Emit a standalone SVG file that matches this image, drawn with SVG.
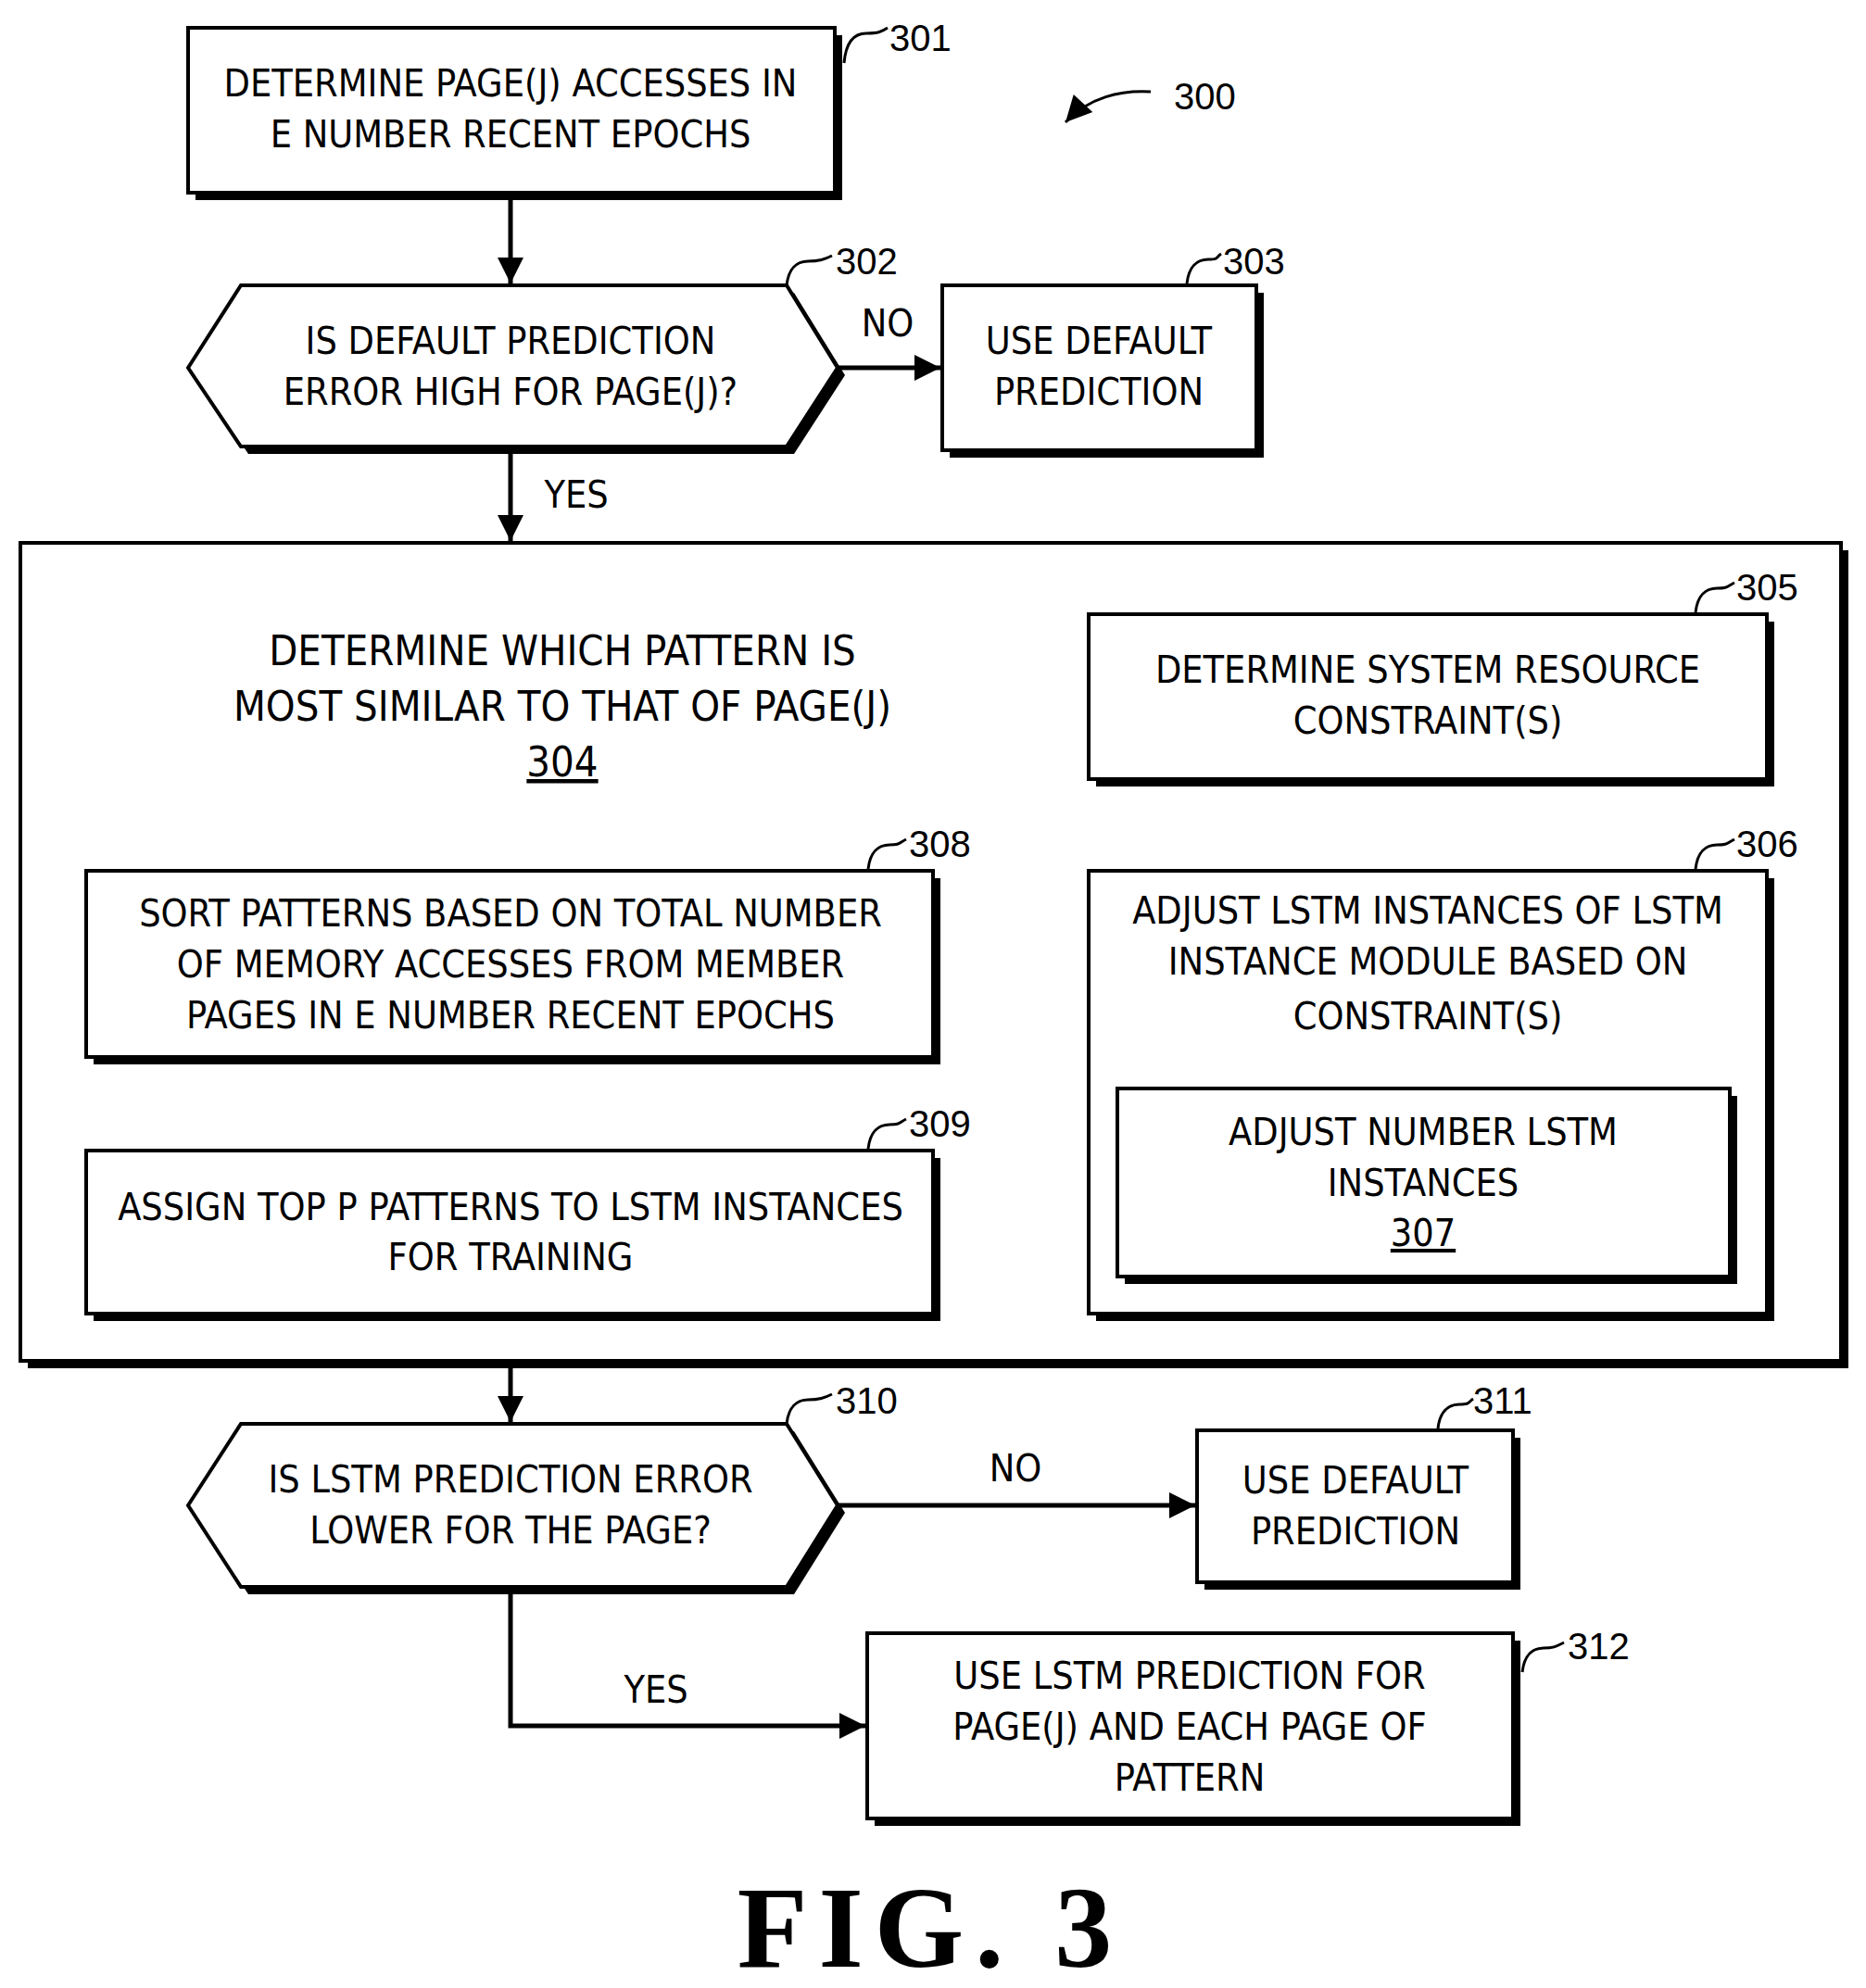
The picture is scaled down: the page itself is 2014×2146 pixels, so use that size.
<svg xmlns="http://www.w3.org/2000/svg" width="2014" height="2146" viewBox="0 0 2014 2146">
<style>
.b{fill:#fff;stroke:#000;stroke-width:4}
.s{fill:#000}
.t{font-family:"Liberation Sans Narrow","DejaVu Sans Condensed","Liberation Sans",sans-serif;font-size:41px;text-anchor:middle;fill:#000}
.tl{font-family:"Liberation Sans Narrow","DejaVu Sans Condensed","Liberation Sans",sans-serif;font-size:45px;text-anchor:middle;fill:#000}
.n{font-family:"Liberation Sans",sans-serif;font-size:40px;fill:#000}
.c{fill:none;stroke:#000;stroke-width:5}
.l{fill:none;stroke:#000;stroke-width:3}
</style>
<defs>
<marker id="ah" viewBox="0 0 10 10" refX="10" refY="5" markerWidth="34" markerHeight="28" orient="auto" markerUnits="userSpaceOnUse">
<path d="M0,0 L10,5 L0,10 z" fill="#000"/>
</marker>
</defs>

<g id="connectors">
<path class="c" d="M551,208 V306" marker-end="url(#ah)"/>
<path class="c" d="M904,397 H1015" marker-end="url(#ah)"/>
<path class="c" d="M551,490 V584" marker-end="url(#ah)"/>
<path class="c" d="M1541,841 V938" marker-end="url(#ah)"/>
<path class="c" d="M1175,1178 H1104 V1041 H1009" marker-end="url(#ah)"/>
<path class="c" d="M551,1141 V1240" marker-end="url(#ah)"/>
<path class="c" d="M551,1475 V1535" marker-end="url(#ah)"/>
<path class="c" d="M904,1625 H1290" marker-end="url(#ah)"/>
<path class="c" d="M551,1721 V1863 H934" marker-end="url(#ah)"/>
<text class="t" x="958" y="363">NO</text>
<text class="t" x="622" y="548">YES</text>
<text class="t" x="1096" y="1599">NO</text>
<text class="t" x="708" y="1838">YES</text>
</g>

<g id="n300">
<path class="l" d="M1242,99 C1210,97 1175,105 1150,132" marker-end="url(#ah)"/>
<text class="n" x="1267" y="118">300</text>
</g>

<g id="n301">
<rect class="s" x="211" y="38" width="698" height="178"/>
<rect class="b" x="203" y="30" width="698" height="178"/>
<text class="t" x="551" y="104">DETERMINE PAGE(J) ACCESSES IN</text>
<text class="t" x="551" y="159">E NUMBER RECENT EPOCHS</text>
<path class="l" d="M911,68 C913,45 922,36 935,36 S952,34 958,30"/>
<text class="n" x="960" y="55">301</text>
</g>

<g id="n302">
<polygon class="s" points="211,405 268,316 857,316 912,405 857,490 268,490"/>
<polygon class="b" points="203,397 260,308 849,308 904,397 849,482 260,482"/>
<text class="t" x="551" y="382">IS DEFAULT PREDICTION</text>
<text class="t" x="551" y="437">ERROR HIGH FOR PAGE(J)?</text>
<path class="l" d="M849,308 C851,290 860,282 872,282 S890,280 898,276"/>
<text class="n" x="902" y="296">302</text>
</g>

<g id="n303">
<rect class="s" x="1025" y="316" width="339" height="178"/>
<rect class="b" x="1017" y="308" width="339" height="178"/>
<text class="t" x="1186" y="382">USE DEFAULT</text>
<text class="t" x="1186" y="437">PREDICTION</text>
<path class="l" d="M1281,306 C1283,288 1292,280 1304,280 S1312,278 1318,274"/>
<text class="n" x="1320" y="296">303</text>
</g>

<g id="n304">
<rect class="s" x="30" y="594" width="1965" height="883"/>
<rect class="b" x="22" y="586" width="1965" height="883"/>
<text class="tl" x="607" y="718">DETERMINE WHICH PATTERN IS</text>
<text class="tl" x="607" y="778">MOST SIMILAR TO THAT OF PAGE(J)</text>
<text class="tl" x="607" y="838" text-decoration="underline">304</text>
</g>

<g id="n305">
<rect class="s" x="1183" y="671" width="732" height="178"/>
<rect class="b" x="1175" y="663" width="732" height="178"/>
<text class="t" x="1541" y="737">DETERMINE SYSTEM RESOURCE</text>
<text class="t" x="1541" y="792">CONSTRAINT(S)</text>
<path class="l" d="M1830,661 C1832,643 1841,635 1853,635 S1864,633 1872,629"/>
<text class="n" x="1874" y="648">305</text>
</g>

<g id="n306">
<rect class="s" x="1183" y="948" width="732" height="478"/>
<rect class="b" x="1175" y="940" width="732" height="478"/>
<text class="t" x="1541" y="997">ADJUST LSTM INSTANCES OF LSTM</text>
<text class="t" x="1541" y="1052">INSTANCE MODULE BASED ON</text>
<text class="t" x="1541" y="1111">CONSTRAINT(S)</text>
<path class="l" d="M1830,938 C1832,920 1841,912 1853,912 S1864,910 1872,906"/>
<text class="n" x="1874" y="925">306</text>
</g>

<g id="n307">
<rect class="s" x="1214" y="1183" width="661" height="203"/>
<rect class="b" x="1206" y="1175" width="661" height="203"/>
<text class="t" x="1536" y="1236">ADJUST NUMBER LSTM</text>
<text class="t" x="1536" y="1291">INSTANCES</text>
<text class="t" x="1536" y="1345" text-decoration="underline">307</text>
</g>

<g id="n308">
<rect class="s" x="101" y="948" width="914" height="201"/>
<rect class="b" x="93" y="940" width="914" height="201"/>
<text class="t" x="551" y="1000">SORT PATTERNS BASED ON TOTAL NUMBER</text>
<text class="t" x="551" y="1055">OF MEMORY ACCESSES FROM MEMBER</text>
<text class="t" x="551" y="1110">PAGES IN E NUMBER RECENT EPOCHS</text>
<path class="l" d="M937,938 C939,920 948,912 960,912 S970,910 978,906"/>
<text class="n" x="981" y="925">308</text>
</g>

<g id="n309">
<rect class="s" x="101" y="1250" width="914" height="176"/>
<rect class="b" x="93" y="1242" width="914" height="176"/>
<text class="t" x="551" y="1317">ASSIGN TOP P PATTERNS TO LSTM INSTANCES</text>
<text class="t" x="551" y="1371">FOR TRAINING</text>
<path class="l" d="M937,1240 C939,1222 948,1214 960,1214 S970,1212 978,1208"/>
<text class="n" x="981" y="1227">309</text>
</g>

<g id="n310">
<polygon class="s" points="211,1633 268,1545 857,1545 912,1633 857,1721 268,1721"/>
<polygon class="b" points="203,1625 260,1537 849,1537 904,1625 849,1713 260,1713"/>
<text class="t" x="551" y="1611">IS LSTM PREDICTION ERROR</text>
<text class="t" x="551" y="1666">LOWER FOR THE PAGE?</text>
<path class="l" d="M849,1537 C851,1519 860,1511 872,1511 S890,1509 898,1505"/>
<text class="n" x="902" y="1526">310</text>
</g>

<g id="n311">
<rect class="s" x="1300" y="1552" width="341" height="164"/>
<rect class="b" x="1292" y="1544" width="341" height="164"/>
<text class="t" x="1463" y="1612">USE DEFAULT</text>
<text class="t" x="1463" y="1667">PREDICTION</text>
<path class="l" d="M1552,1542 C1554,1524 1563,1516 1575,1516 S1584,1514 1590,1510"/>
<text class="n" x="1590" y="1526">311</text>
</g>

<g id="n312">
<rect class="s" x="944" y="1771" width="697" height="200"/>
<rect class="b" x="936" y="1763" width="697" height="200"/>
<text class="t" x="1284" y="1823">USE LSTM PREDICTION FOR</text>
<text class="t" x="1284" y="1878">PAGE(J) AND EACH PAGE OF</text>
<text class="t" x="1284" y="1933">PATTERN</text>
<path class="l" d="M1643,1805 C1645,1787 1654,1779 1666,1779 S1680,1777 1688,1773"/>
<text class="n" x="1692" y="1791">312</text>
</g>

<text x="1004" y="2123" style="font-family:'Liberation Serif',serif;font-weight:bold;font-size:124px;letter-spacing:12px;text-anchor:middle">FIG. 3</text>
</svg>
